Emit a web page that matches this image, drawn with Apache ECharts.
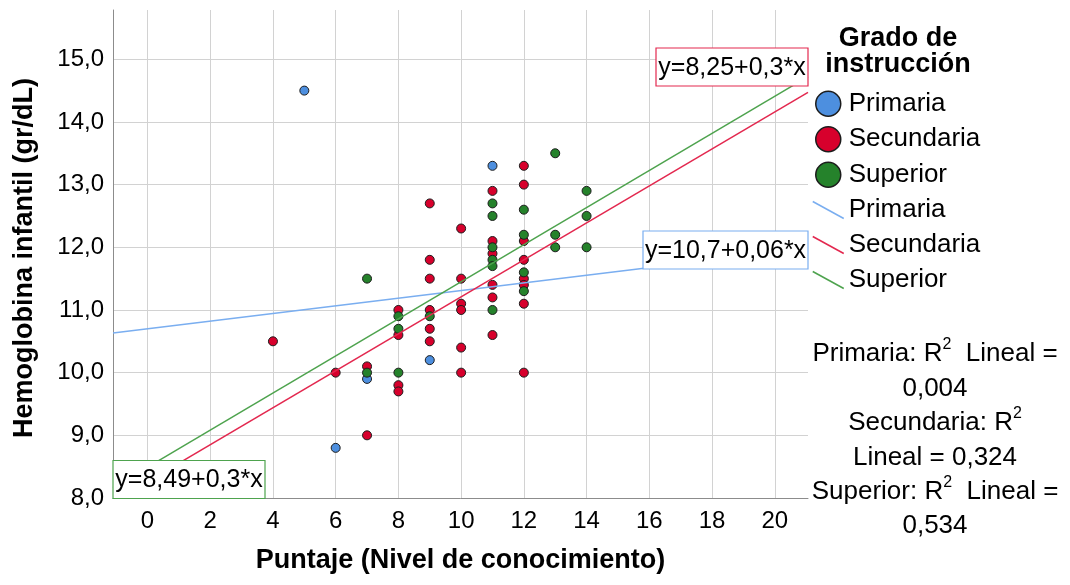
<!DOCTYPE html>
<html><head><meta charset="utf-8">
<script src="https://cdn.jsdelivr.net/npm/echarts@6/dist/echarts.min.js"></script>
<style>html,body{margin:0;padding:0;background:#fff}#c{width:1070px;height:585px}</style>
</head><body><div id="c"></div><script>
const groups = ['Primaria', 'Secundaria', 'Superior'];
const primaria = [[5,14.5],[11,13.3],[9,10.2],[7,9.9],[6,8.8]];
const secundaria = [
  [4,10.5],[6,10.0],[7,10.1],[7,9.0],
  [8,11.0],[8,10.6],[8,9.8],[8,9.7],
  [9,12.7],[9,11.8],[9,11.5],[9,11.0],[9,10.7],[9,10.5],
  [10,12.3],[10,11.5],[10,11.1],[10,11.0],[10,10.4],[10,10.0],
  [11,12.9],[11,12.1],[11,11.9],[11,11.4],[11,11.2],[11,10.6],
  [12,13.3],[12,13.0],[12,12.1],[12,11.8],[12,11.5],[12,11.4],[12,11.1],[12,10.0]
];
const superior = [
  [7,11.5],[7,10.0],
  [8,10.9],[8,10.7],[8,10.0],
  [9,10.9],
  [11,12.7],[11,12.5],[11,12.0],[11,11.8],[11,11.7],[11,11.0],
  [12,12.6],[12,12.2],[12,11.6],[12,11.3],
  [13,13.5],[13,12.2],[13,12.0],
  [14,12.9],[14,12.5],[14,12.0]
];
const intercepts = [10.7, 8.26, 8.49];
const slopes = [0.061, 0.295, 0.296];
const eqLabels = ['y=10,7+0,06*x', 'y=8,25+0,3*x', 'y=8,49+0,3*x'];
const r2Values = ['0,004', '0,324', '0,534'];
const xTicks = [0, 2, 4, 6, 8, 10, 12, 14, 16, 18, 20];
const yTicks = [8, 9, 10, 11, 12, 13, 14, 15];
const xRange = [-1.1, 21.06];
const yRange = [8, 15.786];

const FONT = '"Liberation Sans", Arial, sans-serif';
const pointColors = ['#4d8fdf', '#d7002c', '#25822b'];
const lineColors = ['#7aaef0', '#e3284f', '#4ea34e'];
const pointData = [primaria, secundaria, superior];

const scatterSeries = groups.map((g, i) => ({
  name: g, type: 'scatter', data: pointData[i], symbolSize: 9, z: 2,
  itemStyle: { color: pointColors[i], borderColor: '#1c1c1c', borderWidth: 1, opacity: 1 }
}));
const lineSeries = groups.map((g, i) => ({
  name: g + ' (lineal)', type: 'line', symbol: 'none', z: 3, clip: true, silent: true,
  lineStyle: { color: lineColors[i], width: 1.5 },
  itemStyle: { color: lineColors[i] },
  data: xRange.map(x => [x, intercepts[i] + slopes[i] * x])
}));

const eqBoxes = [
  { x: 643, y: 231, w: 165, h: 38 },
  { x: 656, y: 48, w: 152, h: 38 },
  { x: 113, y: 460.5, w: 152, h: 38 }
];
const eqGraphics = [];
groups.forEach((g, i) => {
  eqGraphics.push({ type: 'rect', z: 100, zlevel: 0,
    shape: { x: eqBoxes[i].x, y: eqBoxes[i].y, width: eqBoxes[i].w, height: eqBoxes[i].h },
    style: { fill: '#fff', stroke: lineColors[i], lineWidth: 1.2 } });
  eqGraphics.push({ type: 'text', z: 101, zlevel: 0, style: {
    x: eqBoxes[i].x + eqBoxes[i].w / 2, y: eqBoxes[i].y + eqBoxes[i].h / 2 + 1,
    text: eqLabels[i], font: '25px ' + FONT, fill: '#000',
    align: 'center', verticalAlign: 'middle', textAlign: 'center', textVerticalAlign: 'middle' } });
});

const r2Text = [
  '{t|' + groups[0] + ': R}{s|2}{t|  Lineal =}',
  '{t|' + r2Values[0] + '}',
  '{t|' + groups[1] + ': R}{s|2}',
  '{t|Lineal = ' + r2Values[1] + '}',
  '{t|' + groups[2] + ': R}{s|2}{t|  Lineal =}',
  '{t|' + r2Values[2] + '}'
].join('\n');

const legendData = [];
groups.forEach((g, i) => legendData.push({ name: g, icon: 'circle',
  itemStyle: { color: pointColors[i], borderColor: '#1c1c1c', borderWidth: 1.5 } }));
groups.forEach((g, i) => legendData.push({ name: g + ' (lineal)', icon: 'path://M0,0 L31,17',
  itemStyle: { color: lineColors[i], borderColor: lineColors[i], borderWidth: 1.5 } }));

const chart = echarts.init(document.getElementById('c'), null, { renderer: 'canvas' });
chart.setOption({
  animation: false,
  backgroundColor: '#fff',
  textStyle: { fontFamily: FONT },
  grid: { left: 113, top: 10, right: 262, bottom: 87, containLabel: false, outerBoundsMode: 'none' },
  xAxis: {
    type: 'value', min: xRange[0], max: xRange[1],
    name: 'Puntaje (Nivel de conocimiento)', nameLocation: 'middle', nameGap: 49,
    nameTextStyle: { fontSize: 27, fontWeight: 'bold', color: '#000', fontFamily: FONT },
    axisLine: { show: true, onZero: false, lineStyle: { color: '#8c8c8c', width: 1 } },
    axisTick: { show: false, customValues: xTicks },
    axisLabel: { customValues: xTicks, fontSize: 24, color: '#000', margin: 11, fontFamily: FONT },
    splitLine: { show: true, lineStyle: { color: '#d2d2d2', width: 1 } }
  },
  yAxis: {
    type: 'value', min: yRange[0], max: yRange[1],
    name: 'Hemoglobina infantil (gr/dL)', nameLocation: 'middle', nameGap: 75, nameRotate: 90,
    nameTextStyle: { fontSize: 27, fontWeight: 'bold', color: '#000', fontFamily: FONT, padding: [0, 8, 0, 0] },
    axisLine: { show: true, onZero: false, lineStyle: { color: '#8c8c8c', width: 1 } },
    axisTick: { show: false, customValues: yTicks },
    axisLabel: { customValues: yTicks, fontSize: 24, color: '#000', margin: 9, fontFamily: FONT,
      formatter: v => v.toFixed(1).replace('.', ',') },
    splitLine: { show: true, lineStyle: { color: '#d2d2d2', width: 1 } }
  },
  legend: {
    data: legendData, orient: 'vertical', left: 807, top: 85.5,
    itemWidth: 31, itemHeight: 25, itemGap: 9, selectedMode: false,
    formatter: n => n.replace(' (lineal)', ''),
    textStyle: { fontSize: 26, color: '#000', fontFamily: FONT }
  },
  graphic: [
    ...eqGraphics,
    { type: 'text', z: 100, style: { x: 898, y: 26, text: 'Grado de\ninstrucción',
        font: 'bold 27px ' + FONT, fill: '#000', lineHeight: 26,
        align: 'center', verticalAlign: 'top', textAlign: 'center', textVerticalAlign: 'top' } },
    { type: 'text', z: 100, style: { x: 935, y: 337, text: r2Text, fill: '#000',
        align: 'center', verticalAlign: 'top', textAlign: 'center', textVerticalAlign: 'top',
        rich: {
          t: { fontSize: 26, lineHeight: 34.4, fontFamily: FONT, color: '#000' },
          s: { fontSize: 16, lineHeight: 16, fontFamily: FONT, color: '#000', verticalAlign: 'top' }
        } } }
  ],
  series: [...scatterSeries, ...lineSeries]
});
</script></body></html>
